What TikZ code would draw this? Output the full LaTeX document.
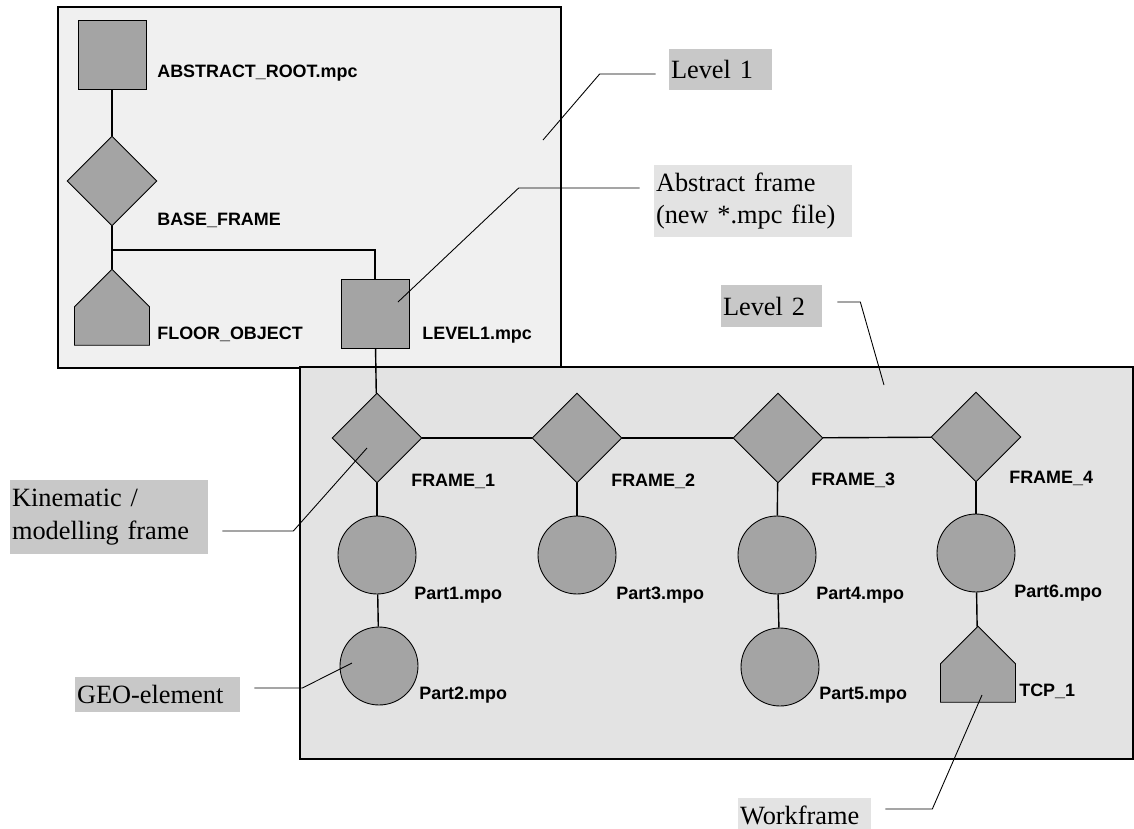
\documentclass[tikz,border=0pt]{standalone}
\usepackage{fontspec}
\newfontfamily\tagfont{Liberation Sans}
\newfontfamily\notefont{Liberation Serif}
\usetikzlibrary{shapes.geometric,shapes.symbols}
\definecolor{levelone}{HTML}{F0F0F0}
\definecolor{leveltwo}{HTML}{E3E3E3}
\definecolor{shapegray}{HTML}{A4A4A4}
\definecolor{notedark}{HTML}{C8C8C8}
\definecolor{notelight}{HTML}{E3E3E3}

\begin{document}
\begin{tikzpicture}[x=0.02cm,y=-0.02cm,
    part/.style={draw=black, fill=shapegray, line width=0.5pt, inner sep=0pt},
    box/.style={part, rectangle, minimum width=1.36cm, minimum height=1.38cm},
    frame/.style={part, diamond, minimum width=1.8cm, minimum height=1.8cm},
    geo/.style={part, circle, minimum size=1.56cm},
    house/.style={part, signal, signal to=north, signal from=nowhere,
      signal pointer angle=90, minimum width=1.5cm, minimum height=0.77cm},
    tag/.style={anchor=base west, inner sep=0pt,
      font=\tagfont\bfseries\fontsize{10.2}{12}\selectfont},
    note/.style={fill=notedark, inner xsep=0.04cm, inner ysep=0pt, align=left,
      font=\notefont\fontsize{15}{18.7}\selectfont},
    link/.style={line width=0.8pt},
    leader/.style={line width=0.5pt}]
  \useasboundingbox (0,0) rectangle (1134,829);

  % the two levels
  \draw[line width=1pt, fill=levelone] (58,7) rectangle (561,368);
  \draw[line width=1pt, fill=leveltwo] (300,367) rectangle (1133,759);

  % level 1
  \node[box] (root) at (112,55) {};
  \node[frame] (base) at (112,181) {};
  \node[house] (floor) at (112,326) {};
  \node[box] (level1) at (375,314) {};
  \node[tag] at (157,77) {ABSTRACT\_ROOT.mpc};
  \node[tag] at (157,225) {BASE\_FRAME};
  \node[tag] at (157,339) {FLOOR\_OBJECT};
  \node[tag] at (422,339) {LEVEL1.mpc};
  \coordinate (split) at (112,250);

  % level 2
  \node[frame] (frame1) at (377,438) {};
  \node[frame] (frame2) at (577,438) {};
  \node[frame] (frame3) at (778,438) {};
  \node[frame] (frame4) at (976,437) {};
  \node[geo] (part1) at (377,555) {};
  \node[geo] (part2) at (379,666) {};
  \node[geo] (part3) at (577,555) {};
  \node[geo] (part4) at (777,555) {};
  \node[geo] (part5) at (780,667) {};
  \node[geo] (part6) at (976,553) {};
  \node[house] (tcp) at (978,683) {};
  \node[tag] at (411,486) {FRAME\_1};
  \node[tag] at (611,486) {FRAME\_2};
  \node[tag] at (811,485) {FRAME\_3};
  \node[tag] at (1009,483) {FRAME\_4};
  \node[tag] at (414,599) {Part1.mpo};
  \node[tag] at (419,699) {Part2.mpo};
  \node[tag] at (616,599) {Part3.mpo};
  \node[tag] at (816,599) {Part4.mpo};
  \node[tag] at (819,699) {Part5.mpo};
  \node[tag] at (1014,597) {Part6.mpo};
  \node[tag] at (1019,696) {TCP\_1};

  % links
  \draw[link] (root) -- (base);
  \draw[link] (base) -- (floor);
  \draw[link] (split) -| (level1);
  \draw[link] (level1) -- (frame1);
  \draw[link] (frame1) -- (frame2);
  \draw[link] (frame2) -- (frame3);
  \draw[link] (frame3) -- (frame4);
  \draw[link] (frame1) -- (part1);
  \draw[link] (part1) -- (part2);
  \draw[link] (frame2) -- (part3);
  \draw[link] (frame3) -- (part4);
  \draw[link] (part4) -- (part5);
  \draw[link] (frame4) -- (part6);
  \draw[link] (part6) -- (tcp);

  % notes
  \node[note, minimum width=2.06cm, minimum height=0.82cm, text width=1.98cm]
    (lvl1note) at (720.5,69.5) {Level 1};
  \node[note, fill=notelight, minimum width=3.96cm, minimum height=1.44cm, text width=3.88cm]
    (absnote) at (753,201) {Abstract frame\\(new *.mpc file)};
  \node[note, minimum width=2.02cm, minimum height=0.84cm, text width=1.94cm]
    (lvl2note) at (771.5,306) {Level 2};
  \node[note, minimum width=3.96cm, minimum height=1.48cm, text width=3.88cm]
    (kinnote) at (109,517) {Kinematic /\\modelling frame};
  \node[note, minimum width=3.3cm, minimum height=0.7cm, text width=3.22cm]
    (geonote) at (157.5,694.5) {GEO-element};
  \node[note, fill=notelight, minimum width=2.66cm, minimum height=0.68cm, text width=2.58cm]
    (worknote) at (804.5,815) {Workframe};

  \coordinate (lvl1pt) at (543,140);
  \coordinate (abspt) at (398,302);
  \coordinate (lvl2pt) at (884,385);
  \coordinate (kinpt) at (367,448);
  \coordinate (geopt) at (352,663);
  \coordinate (workpt) at (982,695);

  \draw[leader] ([xshift=-0.26cm,yshift=-0.09cm]lvl1note.west) -- ++(-56,0) -- (lvl1pt);
  \draw[leader] ([xshift=-0.28cm,yshift=0.26cm]absnote.west) -- ++(-121,0) -- (abspt);
  \draw[leader] ([xshift=0.3cm,yshift=0.08cm]lvl2note.east) -- ++(23,0) -- (lvl2pt);
  \draw[leader] ([xshift=0.28cm,yshift=-0.28cm]kinnote.east) -- ++(71,0) -- (kinpt);
  \draw[leader] ([xshift=0.28cm,yshift=0.13cm]geonote.east) -- ++(48,0) -- (geopt);
  \draw[leader] ([xshift=0.28cm,yshift=0.12cm]worknote.east) -- ++(47,0) -- (workpt);
\end{tikzpicture}
\end{document}
